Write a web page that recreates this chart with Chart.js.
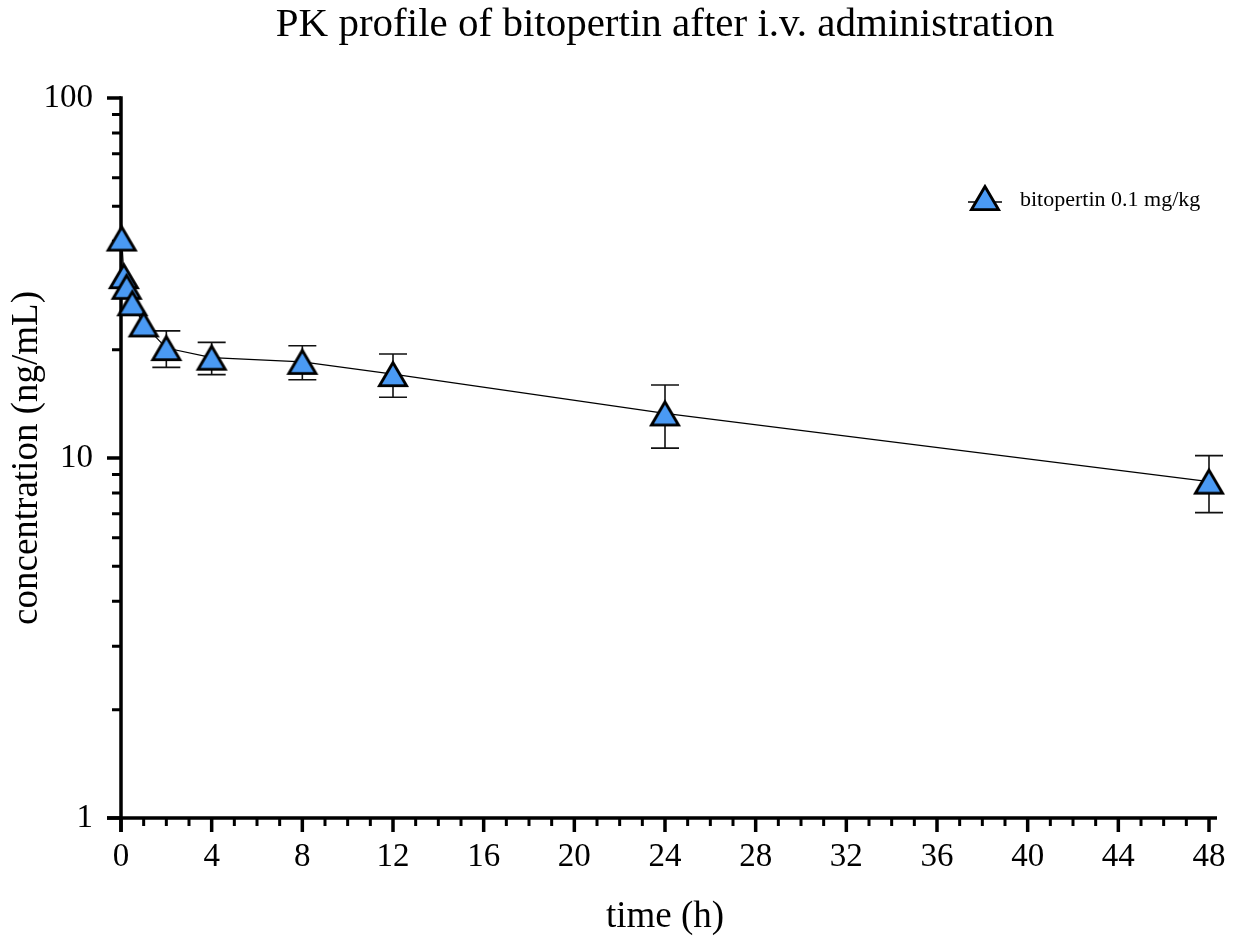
<!DOCTYPE html>
<html>
<head>
<meta charset="utf-8">
<title>PK profile of bitopertin</title>
<script src="https://cdn.jsdelivr.net/npm/chart.js@4.4.1/dist/chart.umd.min.js"></script>
<style>
  html, body { margin: 0; padding: 0; background: #ffffff; }
  #wrap { width: 1239px; height: 943px; }
</style>
</head>
<body>
<div id="wrap"><canvas id="pk" width="1239" height="943"></canvas></div>
<script>
// Sampling times (h), mean plasma concentration (ng/mL) and SD
const timeHours = [0.033, 0.125, 0.25, 0.5, 1, 2, 4, 8, 12, 24, 48];
const concMean  = [40.7, 32.0, 29.9, 26.9, 23.5, 20.2, 19.0, 18.5, 17.1, 13.3, 8.6];
const concSD    = [null, null, null, null, null, 2.35, 1.95, 2.0, 2.35, 2.65, 1.55];

// Axis ticks
const xMajorTicks = [0, 4, 8, 12, 16, 20, 24, 28, 32, 36, 40, 44, 48];
const xMinorTicks = [1,2,3,5,6,7,9,10,11,13,14,15,17,18,19,21,22,23,25,26,27,29,30,31,33,34,35,37,38,39,41,42,43,45,46,47];
const yMajorTicks = [1, 10, 100];
const yMinorTicks = [2,3,4,5,6,7,8,9,20,30,40,50,60,70,80,90];

const seriesLabel = 'bitopertin 0.1 mg/kg';
const FONT = '"Liberation Serif", "Times New Roman", Times, serif';
const MARKER_FILL = '#4a9af4';

// Triangle marker as an offscreen canvas; optional horizontal line for the legend
function makeTriangle(withLine) {
  const c = document.createElement('canvas');
  c.width = withLine ? 40 : 34;
  c.height = 30;
  const g = c.getContext('2d');
  const cx = c.width / 2;
  if (withLine) {
    g.strokeStyle = '#000';
    g.lineWidth = 1.5;
    g.beginPath();
    g.moveTo(3, 19);
    g.lineTo(c.width - 3, 19);
    g.stroke();
  }
  g.beginPath();
  g.moveTo(cx, 3.6);
  g.lineTo(cx - 13.5, 26.6);
  g.lineTo(cx + 13.5, 26.6);
  g.closePath();
  g.fillStyle = MARKER_FILL;
  g.fill();
  g.lineWidth = 2.9;
  g.lineJoin = 'miter';
  g.strokeStyle = '#000';
  g.stroke();
  return c;
}
const markerIcon = makeTriangle(false);
const legendIcon = makeTriangle(true);

// Error bars (mean ± SD), painted under the markers
const errorBarPlugin = {
  id: 'errorBars',
  beforeDatasetsDraw(chart) {
    const { ctx, scales: { x, y } } = chart;
    ctx.save();
    ctx.strokeStyle = '#111';
    ctx.lineWidth = 1.6;
    timeHours.forEach((t, i) => {
      const sd = concSD[i];
      if (sd == null) return;
      const px = x.getPixelForValue(t);
      const yTop = y.getPixelForValue(concMean[i] + sd);
      const yBot = y.getPixelForValue(concMean[i] - sd);
      const half = 14;
      ctx.beginPath();
      ctx.moveTo(px, yTop); ctx.lineTo(px, yBot);
      ctx.moveTo(px - half, yTop); ctx.lineTo(px + half, yTop);
      ctx.moveTo(px - half, yBot); ctx.lineTo(px + half, yBot);
      ctx.stroke();
    });
    ctx.restore();
  }
};

// Axis lines with long major and short minor tick marks
const axisPlugin = {
  id: 'axisLines',
  beforeDatasetsDraw(chart) {
    const { ctx, chartArea: a, scales: { x, y } } = chart;
    const majorLen = 14, minorLen = 8, yMinorLen = 9;
    ctx.save();
    ctx.strokeStyle = '#000';
    ctx.lineCap = 'butt';
    // axis lines
    ctx.lineWidth = 3.5;
    ctx.beginPath();
    ctx.moveTo(a.left - majorLen, a.bottom);
    ctx.lineTo(a.right + 8, a.bottom);
    ctx.moveTo(a.left, a.bottom + majorLen);
    ctx.lineTo(a.left, a.top - 1.75);
    ctx.stroke();
    // major ticks
    ctx.beginPath();
    xMajorTicks.forEach(v => {
      const px = x.getPixelForValue(v);
      ctx.moveTo(px, a.bottom); ctx.lineTo(px, a.bottom + majorLen);
    });
    yMajorTicks.forEach(v => {
      const py = y.getPixelForValue(v);
      ctx.moveTo(a.left, py); ctx.lineTo(a.left - majorLen, py);
    });
    ctx.stroke();
    // minor ticks
    ctx.lineWidth = 3;
    ctx.beginPath();
    xMinorTicks.forEach(v => {
      const px = x.getPixelForValue(v);
      ctx.moveTo(px, a.bottom); ctx.lineTo(px, a.bottom + minorLen);
    });
    yMinorTicks.forEach(v => {
      const py = y.getPixelForValue(v);
      ctx.moveTo(a.left, py); ctx.lineTo(a.left - yMinorLen, py);
    });
    ctx.stroke();
    ctx.restore();
  }
};

// Legend entry inside the plot area, upper right
const legendPlugin = {
  id: 'insideLegend',
  afterDraw(chart) {
    const { ctx, chartArea: a } = chart;
    const ix = a.right - 224, iy = a.top + 100;
    ctx.save();
    ctx.drawImage(legendIcon, ix - legendIcon.width / 2, iy - legendIcon.height / 2);
    ctx.fillStyle = '#000';
    ctx.font = '22px ' + FONT;
    ctx.textAlign = 'left';
    ctx.textBaseline = 'middle';
    ctx.fillText(chart.data.datasets[0].label, ix + 35, iy + 2);
    ctx.restore();
  }
};

new Chart(document.getElementById('pk'), {
  type: 'line',
  data: {
    datasets: [{
      label: seriesLabel,
      data: timeHours.map((t, i) => ({ x: t, y: concMean[i] })),
      borderColor: '#000',
      borderWidth: 1.2,
      tension: 0,
      fill: false,
      clip: false,
      pointStyle: markerIcon,
      pointRadius: 15,
      pointHoverRadius: 15
    }]
  },
  options: {
    responsive: false,
    animation: false,
    events: [],
    devicePixelRatio: 1,
    layout: { padding: { left: 0, right: 30, top: 0, bottom: 0 } },
    plugins: {
      legend: { display: false },
      tooltip: { enabled: false },
      title: {
        display: true,
        fullSize: false,
        text: 'PK profile of bitopertin after i.v. administration',
        color: '#000',
        font: { family: FONT, size: 41, weight: 'normal' },
        padding: { top: 1, bottom: 47.8 }
      }
    },
    scales: {
      x: {
        type: 'linear',
        min: 0,
        max: 48,
        afterBuildTicks: s => { s.ticks = xMajorTicks.map(v => ({ value: v })); },
        afterFit: s => { s.height = 125; s.paddingLeft = 0; s.paddingRight = 0; },
        grid: { display: false, drawTicks: false },
        border: { display: false },
        ticks: {
          color: '#000',
          font: { family: FONT, size: 33 },
          padding: 20,
          maxRotation: 0,
          autoSkip: false,
          callback: v => String(v)
        },
        title: {
          display: true,
          text: 'time (h)',
          color: '#000',
          font: { family: FONT, size: 37 },
          padding: { top: 0, bottom: 4 }
        }
      },
      y: {
        type: 'logarithmic',
        min: 1,
        max: 100,
        afterBuildTicks: s => { s.ticks = yMajorTicks.map(v => ({ value: v })); },
        afterFit: s => { s.width = 121; },
        grid: { display: false, drawTicks: false },
        border: { display: false },
        ticks: {
          color: '#000',
          font: { family: FONT, size: 33 },
          padding: 28,
          autoSkip: false,
          callback: v => String(v)
        },
        title: {
          display: true,
          text: 'concentration (ng/mL)',
          color: '#000',
          font: { family: FONT, size: 37 },
          padding: { top: 5, bottom: 0 }
        }
      }
    }
  },
  plugins: [axisPlugin, errorBarPlugin, legendPlugin]
});
</script>
</body>
</html>
